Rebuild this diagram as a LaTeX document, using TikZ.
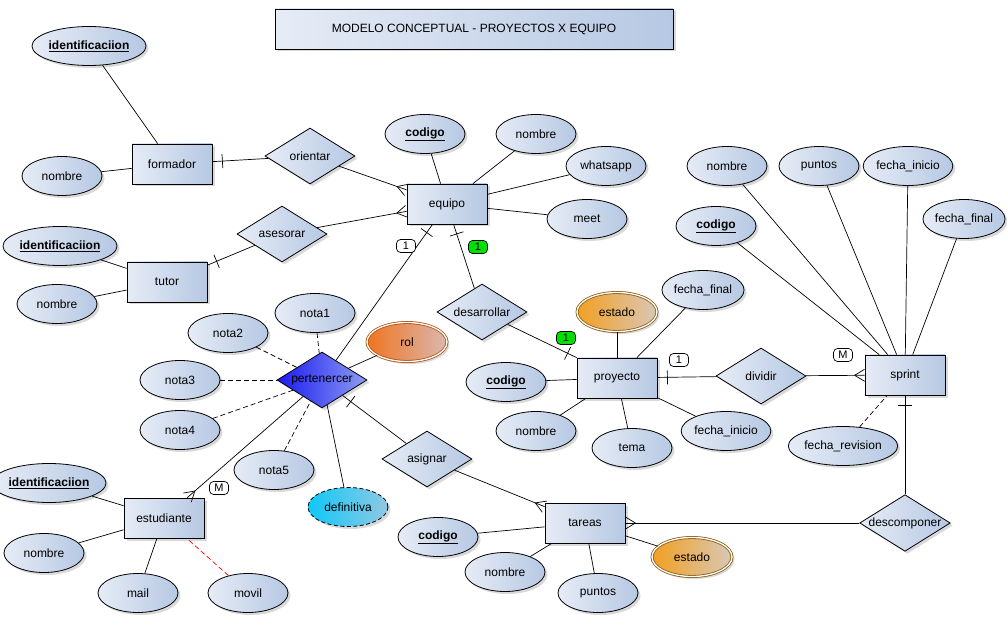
\documentclass[tikz,border=0pt]{standalone}
\usepackage{fontspec}
\setmainfont{Liberation Sans}
\usetikzlibrary{shapes.geometric,shadows,decorations.markings}
\definecolor{gl}{HTML}{E6ECF6}
\definecolor{gd}{HTML}{B6C8E3}
\definecolor{pl}{HTML}{1A1AF2}
\definecolor{pd}{HTML}{8E9CF0}
\definecolor{rl}{HTML}{F07420}
\definecolor{rd}{HTML}{DAB8B0}
\definecolor{rb}{HTML}{B05010}
\definecolor{el}{HTML}{F2A020}
\definecolor{ed}{HTML}{D8C8B8}
\definecolor{eb}{HTML}{8A5A10}
\definecolor{cl}{HTML}{10C8F8}
\definecolor{cd}{HTML}{90C8E2}
\definecolor{gr}{HTML}{00E000}
\begin{document}
\begin{tikzpicture}[x=1pt,y=-1pt, font=\fontsize{12}{14}\selectfont,
 base/.style={draw=black, line width=0.8pt, left color=gl, right color=gd,
   drop shadow={shadow xshift=2.5pt,shadow yshift=-2.5pt,opacity=0.3}},
 ent/.style={base, rectangle, minimum width=80pt, minimum height=40pt, inner sep=0pt},
 attr/.style={base, ellipse, minimum width=80pt, minimum height=39pt, inner sep=0pt},
 rel/.style={base, diamond, minimum width=90pt, minimum height=56pt, inner sep=0pt, shape aspect=1.6},
 ln/.style={draw, line width=0.7pt},
 dln/.style={ln, dash pattern=on 5pt off 3pt},
 crow/.style={postaction={decorate, decoration={markings, mark=at position 0.9999 with {\draw[line width=0.7pt] (-10pt,0)--(0,6pt) (-10pt,0)--(0,-6pt);}}}},
 bar/.style={postaction={decorate, decoration={markings, mark=at position -10pt with {\draw[line width=0.7pt] (0,-7pt)--(0,7pt);}}}},
 card/.style={draw, line width=0.7pt, rounded corners=4pt, fill=white, minimum width=19pt, minimum height=13pt, inner sep=0pt, font=\fontsize{11}{12}\selectfont},
 ]
\useasboundingbox (0,0) rectangle (1007,620);
% title
\node[ent, minimum width=398pt] (title) at (474,29) {MODELO CONCEPTUAL - PROYECTOS X EQUIPO};
% entities
\node[ent] (formador) at (172,164) {formador};
\node[ent] (equipo) at (447,204) {equipo};
\node[ent] (tutor) at (167,282) {tutor};
\node[ent] (proyecto) at (617,378) {proyecto};
\node[ent] (sprint) at (905,375) {sprint};
\node[ent] (estudiante) at (164,518) {estudiante};
\node[ent] (tareas) at (585,523) {tareas};
% relationships
\node[rel] (orientar) at (310,156) {orientar};
\node[rel] (asesorar) at (282,234) {asesorar};
\node[rel] (desarrollar) at (482,312) {desarrollar};
\node[rel] (dividir) at (761,376) {dividir};
\node[rel, left color=pl, right color=pd] (pert) at (322,380) {pertenercer};
\node[rel] (asignar) at (427,459) {asignar};
\node[rel] (descomponer) at (905,523) {descomponer};
% attributes
\node[attr, minimum width=90pt] (fid) at (89,46) {\textbf{\underline{identificaciion}}};
\node[attr] (fnom) at (62,176) {nombre};
\node[attr] (eqcod) at (425,134) {\textbf{\underline{codigo}}};
\node[attr] (eqnom) at (536,134) {nombre};
\node[attr] (eqwa) at (606,166) {whatsapp};
\node[attr] (eqmeet) at (587,219) {meet};
\node[attr, minimum width=86pt] (tid) at (60,246) {\textbf{\underline{identificaciion}}};
\node[attr] (tnom) at (57,304) {nombre};
\node[attr] (n1) at (315,313) {nota1};
\node[attr] (n2) at (228,333) {nota2};
\node[attr] (n3) at (180,380) {nota3};
\node[attr] (n4) at (180,430) {nota4};
\node[attr] (n5) at (274,470) {nota5};
\node[attr, left color=rl, right color=rd, draw=rb, double=white, double distance=1.3pt] (rol) at (407,342) {rol};
\node[attr, left color=cl, right color=cd, dash pattern=on 4pt off 2.5pt] (def) at (348,507) {definitiva};
\node[attr, left color=el, right color=ed, draw=eb, double=white, double distance=1.3pt] (pest) at (617,312) {estado};
\node[attr] (pcod) at (506,382) {\textbf{\underline{codigo}}};
\node[attr] (pnom) at (536,431) {nombre};
\node[attr] (ptema) at (632,448) {tema};
\node[attr] (pfi) at (726,431) {fecha\_inicio};
\node[attr] (pff) at (703,290) {fecha\_final};
\node[attr] (snom) at (727,166) {nombre};
\node[attr] (spun) at (819,166) {puntos};
\node[attr] (sfi) at (908,166) {fecha\_inicio};
\node[attr] (sff) at (964,219) {fecha\_final};
\node[attr] (scod) at (716,226) {\textbf{\underline{codigo}}};
\node[attr, minimum width=97pt] (sfr) at (843,446) {fecha\_revision};
\node[attr, minimum width=90pt] (esid) at (49,483) {\textbf{\underline{identificaciion}}};
\node[attr] (esnom) at (44,553) {nombre};
\node[attr] (esmail) at (138,593) {mail};
\node[attr] (esmov) at (248,593) {movil};
\node[attr] (tcod) at (438,537) {\textbf{\underline{codigo}}};
\node[attr] (tnom2) at (505,572) {nombre};
\node[attr] (tpun) at (598,593) {puntos};
\node[attr, left color=el, right color=ed, draw=eb, double=white, double distance=1.3pt] (test) at (692,557) {estado};
% attribute links
\begin{scope}[on background layer/.style={}]
\end{scope}
\draw[ln] (fid) -- (formador);
\draw[ln] (fnom) -- (formador);
\draw[ln] (eqcod) -- (equipo);
\draw[ln] (eqnom) -- (equipo);
\draw[ln] (eqwa) -- (equipo);
\draw[ln] (eqmeet) -- (equipo);
\draw[ln] (tid) -- (tutor);
\draw[ln] (tnom) -- (tutor);
\draw[dln] (n1) -- (pert);
\draw[dln] (n2) -- (pert);
\draw[dln] (n3) -- (pert);
\draw[dln] (n4) -- (pert);
\draw[dln] (n5) -- (pert);
\draw[ln] (rol) -- (pert);
\draw[ln] (def) -- (pert);
\draw[ln] (pest) -- (proyecto);
\draw[ln] (pcod) -- (proyecto);
\draw[ln] (pnom) -- (proyecto);
\draw[ln] (ptema) -- (proyecto);
\draw[ln] (pfi) -- (proyecto);
\draw[ln] (pff) -- (proyecto);
\draw[ln] (snom) -- (sprint);
\draw[ln] (spun) -- (sprint);
\draw[ln] (sfi) -- (sprint);
\draw[ln] (sff) -- (sprint);
\draw[ln] (scod) -- (sprint);
\draw[dln] (sfr) -- (sprint);
\draw[ln] (esid) -- (estudiante);
\draw[ln] (esnom) -- (estudiante);
\draw[ln] (esmail) -- (estudiante);
\draw[dln, red] (esmov) -- (estudiante);
\draw[ln] (tcod) -- (tareas);
\draw[ln] (tnom2) -- (tareas);
\draw[ln] (tpun) -- (tareas);
\draw[ln] (test) -- (tareas);
% relationship links
\draw[ln, bar] (orientar) -- (formador);
\draw[ln, crow] (orientar) -- (equipo);
\draw[ln, bar] (asesorar) -- (tutor);
\draw[ln, crow] (asesorar) -- (equipo);
\draw[ln, bar] (pert) -- (equipo);
\draw[ln, crow] (pert) -- (estudiante);
\draw[ln, bar] (asignar) -- (pert);
\draw[ln, crow] (asignar) -- (tareas);
\draw[ln, bar] (desarrollar) -- (equipo);
\draw[ln, bar] (desarrollar) -- (proyecto.north west);
\draw[ln, bar] (dividir) -- (proyecto);
\draw[ln, crow] (dividir) -- (sprint);
\draw[ln, bar] (descomponer) -- (sprint);
\draw[ln, crow] (descomponer) -- (tareas);
% cardinality labels
\node[card] (c1) at (406,246) {1};
\node[card, fill=gr] (c2) at (478,247) {1};
\node[card, fill=gr] (c3) at (566,338) {1};
\node[card] (c4) at (679,360) {1};
\node[card] (c5) at (843,355) {M};
\node[card] (c6) at (219,488) {M};
\end{tikzpicture}
\end{document}
